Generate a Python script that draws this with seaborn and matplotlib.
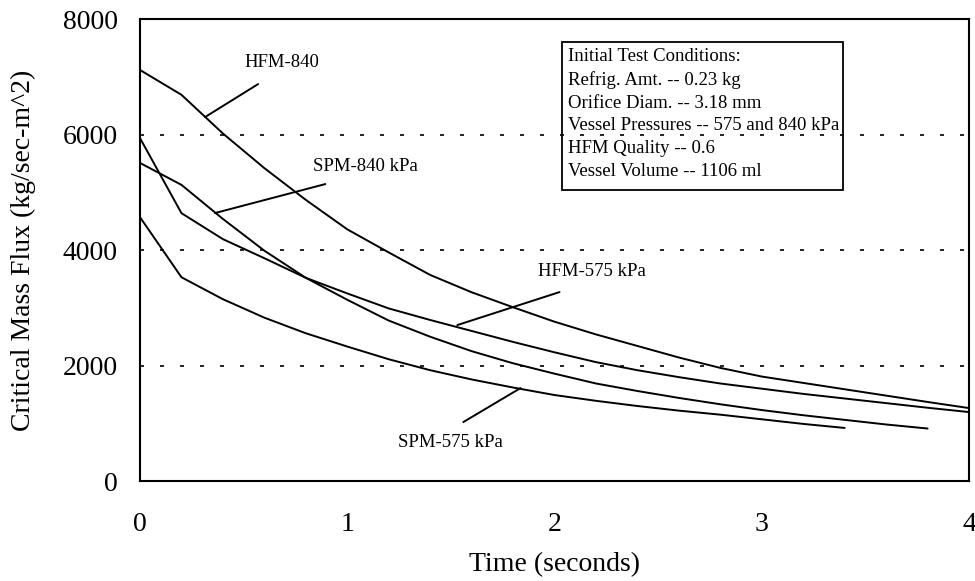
import numpy as np
import pandas as pd
import matplotlib
matplotlib.use("Agg")
import matplotlib.pyplot as plt
from matplotlib.patches import Rectangle
import seaborn as sns

# ---- data ----
series_names = ["HFM-840", "HFM-575", "SPM-840", "SPM-575"]

t_hfm840 = [0, 0.2, 0.4, 0.6, 0.8, 1.0, 1.2, 1.4, 1.6, 1.8, 2.0, 2.2, 2.4, 2.6, 2.8, 3.0, 3.2, 3.4, 3.6, 3.8, 4.0]
g_hfm840 = [7120, 6690, 6020, 5420, 4870, 4360, 3960, 3570, 3270, 3010, 2760, 2540, 2340, 2140, 1960, 1810, 1700, 1590, 1480, 1370, 1264]

t_hfm575 = [0, 0.2, 0.4, 0.6, 0.8, 1.0, 1.2, 1.4, 1.6, 1.8, 2.0, 2.2, 2.4, 2.6, 2.8, 3.0, 3.2, 3.4, 3.6, 3.8, 4.0]
g_hfm575 = [5940, 4640, 4190, 3860, 3520, 3250, 2990, 2790, 2600, 2410, 2230, 2060, 1920, 1800, 1690, 1600, 1510, 1430, 1350, 1270, 1195]

t_spm840 = [0, 0.2, 0.4, 0.6, 0.8, 1.0, 1.2, 1.4, 1.6, 1.8, 2.0, 2.2, 2.4, 2.6, 2.8, 3.0, 3.2, 3.4, 3.6, 3.8]
g_spm840 = [5510, 5130, 4540, 3990, 3520, 3140, 2780, 2500, 2250, 2040, 1860, 1690, 1560, 1440, 1330, 1230, 1140, 1060, 980, 910]

t_spm575 = [0, 0.2, 0.4, 0.6, 0.8, 1.0, 1.2, 1.4, 1.6, 1.8, 2.0, 2.2, 2.4, 2.6, 2.8, 3.0, 3.2, 3.4]
g_spm575 = [4570, 3530, 3150, 2830, 2560, 2330, 2110, 1920, 1760, 1620, 1490, 1390, 1300, 1220, 1150, 1070, 990, 920]

x_ticks = [0, 1, 2, 3, 4]
y_ticks = [0, 2000, 4000, 6000, 8000]

conditions = ["Initial Test Conditions:",
              "Refrig. Amt. -- 0.23 kg",
              "Orifice Diam. -- 3.18 mm",
              "Vessel Pressures -- 575 and 840 kPa",
              "HFM Quality -- 0.6",
              "Vessel Volume -- 1106 ml"]

frames = []
for name, t, g in [("HFM-840", t_hfm840, g_hfm840), ("HFM-575", t_hfm575, g_hfm575),
                   ("SPM-840", t_spm840, g_spm840), ("SPM-575", t_spm575, g_spm575)]:
    frames.append(pd.DataFrame({"time": t, "flux": g, "series": name}))
df = pd.concat(frames, ignore_index=True)

sns.set_theme(style="white")
plt.rcParams["font.family"] = ["Liberation Serif", "DejaVu Serif"]

fig = plt.figure(figsize=(9.75, 5.81), dpi=100)
ax = fig.add_axes([0.1436, 0.172, 0.8503, 0.795])

sns.lineplot(data=df, x="time", y="flux", hue="series", units="series", estimator=None,
             palette={n: "black" for n in series_names}, linewidth=1.4, legend=False,
             sort=False, ax=ax)

ax.set_xlim(0, 4)
ax.set_ylim(0, 8000)
ax.set_xticks(x_ticks)
ax.set_yticks(y_ticks)
ax.set_xticklabels([str(v) for v in x_ticks])
ax.set_yticklabels([str(v) for v in y_ticks])

for yv in y_ticks[1:-1]:
    ax.axhline(yv, color="black", lw=1.2, dashes=(2.4, 9.6), zorder=1)

for s in ax.spines.values():
    s.set_color("black")
    s.set_linewidth(1.5)
    s.set_visible(True)

ax.tick_params(axis="x", direction="in", length=6, width=1.2, colors="black",
               labelsize=20, pad=22)
ax.tick_params(axis="y", direction="in", length=5, width=1.2, colors="black",
               labelsize=20, pad=16)

ax.set_xlabel("Time (seconds)", fontsize=20, color="black", va="center")
ax.xaxis.set_label_coords(0.5, -0.18)
ax.set_ylabel("Critical Mass Flux (kg/sec-m^2)", fontsize=20, color="black", va="center")
ax.yaxis.set_label_coords(-0.141, 0.5)

# curve labels with pointer lines
labels = [("HFM-840", (0.686, 7257), (0.57, 6876), (0.314, 6305)),
          ("SPM-840 kPa", (1.087, 5456), (0.894, 5144), (0.362, 4642)),
          ("HFM-575 kPa", (2.18, 3637), (2.024, 3273), (1.531, 2702)),
          ("SPM-575 kPa", (1.498, 675), (1.560, 1022), (1.836, 1611))]
for txt, pos, p0, p1 in labels:
    ax.text(pos[0], pos[1], txt, fontsize=13.5, ha="center", va="center", color="black")
    ax.annotate("", xy=p1, xytext=p0,
                arrowprops=dict(arrowstyle="-", color="black", lw=1.4,
                                shrinkA=0, shrinkB=0))

# conditions box
ax.add_patch(Rectangle((2.034, 5040), 1.357, 2563, fill=False, ec="black", lw=1.3, zorder=3))
ax.text(2.063, 7508, "\n".join(conditions), fontsize=13.5, ha="left", va="top",
        linespacing=1.45, color="black")

fig.savefig("out.png", dpi=100)
